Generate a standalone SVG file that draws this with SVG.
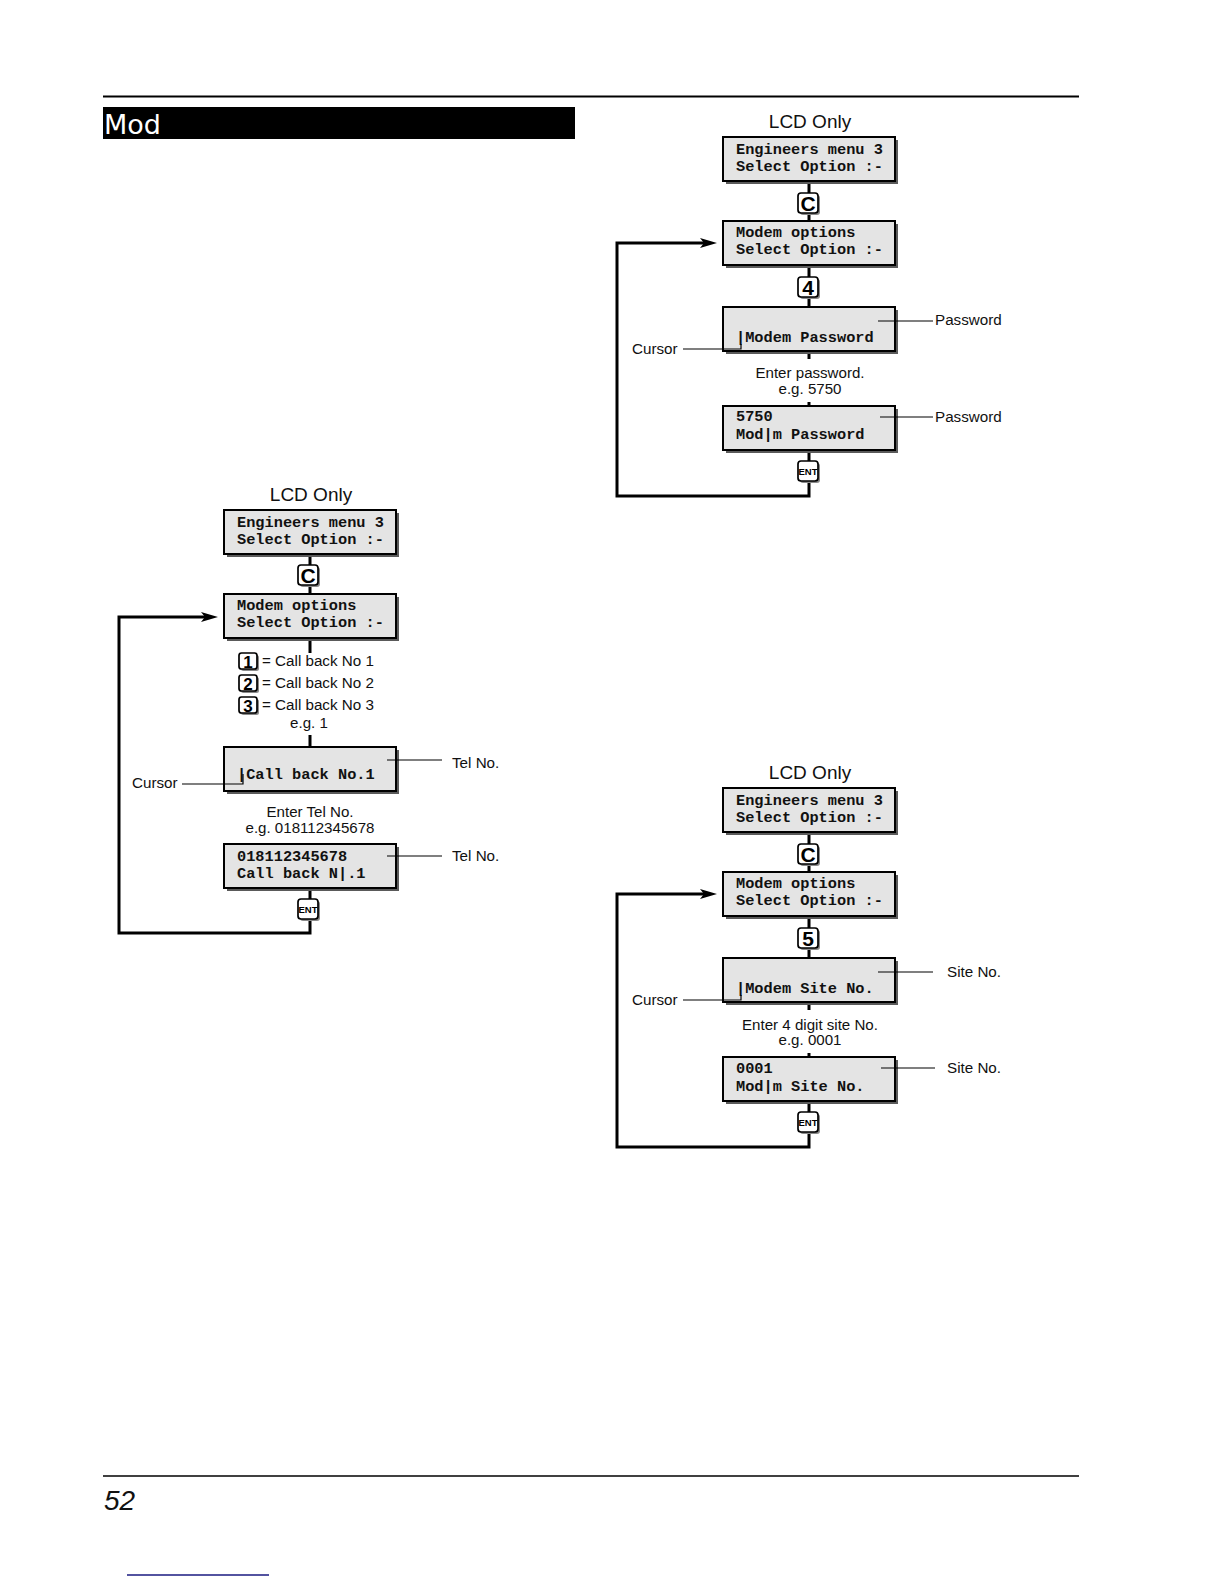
<svg xmlns="http://www.w3.org/2000/svg" width="1224" height="1584" viewBox="0 0 1224 1584">
<style>
  .lcd { fill:#e4e4e4; stroke:#000; stroke-width:2; }
  .shadow { fill:#5a5a5a; }
  .mono { font-family:"Liberation Mono","Courier New",monospace; font-weight:bold; font-size:15.3px; fill:#111; }
  .lbl { font-family:"Liberation Sans",Arial,sans-serif; font-size:15.2px; fill:#111; }
  .lblc { font-family:"Liberation Sans",Arial,sans-serif; font-size:15.1px; fill:#111; text-anchor:middle; }
  .title { font-family:"Liberation Sans",Arial,sans-serif; font-size:19px; fill:#111; text-anchor:middle; }
  .key { fill:#fff; stroke:#000; stroke-width:1.7; }
  .kshadow { fill:#8a8a8a; }
  .keyt { font-family:"Liberation Sans",Arial,sans-serif; font-weight:bold; font-size:21px; fill:#000; text-anchor:middle; }
  .keys { font-family:"Liberation Sans",Arial,sans-serif; font-weight:bold; font-size:17px; fill:#000; text-anchor:middle; }
  .entt { font-family:"Liberation Sans",Arial,sans-serif; font-weight:bold; font-size:9.5px; fill:#000; text-anchor:middle; }
  .conn { fill:none; stroke:#000; stroke-width:3; }
  .loop { fill:none; stroke:#000; stroke-width:3; }
  .thin { fill:none; stroke:#000; stroke-width:1.2; }
</style>
<defs>
  <marker id="arrow" viewBox="0 0 17 10" refX="4" refY="5" markerWidth="17" markerHeight="10" markerUnits="userSpaceOnUse" orient="auto">
    <path d="M0,0 L17,5 L0,10 L4,5 Z" fill="#000"/>
  </marker>
</defs>
<rect width="1224" height="1584" fill="#fff"/>

<!-- page frame -->
<g id="page">
  <line x1="103" y1="96.5" x2="1079" y2="96.5" stroke="#000" stroke-width="2"/>
  <rect x="103" y="107" width="472" height="32" fill="#000"/>
  <text x="104" y="134" font-family="DejaVu Sans, sans-serif" font-size="27" fill="#fff">Mod</text>
  <line x1="103" y1="1476" x2="1079" y2="1476" stroke="#000" stroke-width="1.5"/>
  <text x="104" y="1510" font-family="Liberation Sans, Arial, sans-serif" font-style="italic" font-size="28" fill="#111">52</text>
  <line x1="127" y1="1575" x2="269" y2="1575" stroke="#1a1a80" stroke-width="1.5"/>
</g>

<!-- ================= TOP RIGHT DIAGRAM ================= -->
<g id="tr-title"><text class="title" x="810" y="128">LCD Only</text></g>
<g id="tr-box1">
  <rect class="shadow" x="726" y="140" width="172" height="44"/>
  <rect class="lcd" x="723" y="137" width="172" height="44"/>
  <text class="mono" x="736" y="154">Engineers menu 3</text>
  <text class="mono" x="736" y="171">Select Option :-</text>
</g>
<g id="tr-keyC">
  <rect class="kshadow" x="800" y="195" width="20" height="20" rx="3"/>
  <rect class="key" x="798" y="193" width="20" height="20" rx="3"/>
  <text class="keyt" x="808" y="211">C</text>
</g>
<g id="tr-box2">
  <rect class="shadow" x="726" y="224" width="172" height="44"/>
  <rect class="lcd" x="723" y="221" width="172" height="44"/>
  <text class="mono" x="736" y="237">Modem options</text>
  <text class="mono" x="736" y="254">Select Option :-</text>
</g>
<g id="tr-key4">
  <rect class="kshadow" x="800" y="279" width="20" height="20" rx="3"/>
  <rect class="key" x="798" y="277" width="20" height="20" rx="3"/>
  <text class="keyt" x="808" y="295">4</text>
</g>
<g id="tr-box3">
  <rect class="shadow" x="726" y="310" width="172" height="44"/>
  <rect class="lcd" x="723" y="307" width="172" height="44"/>
  <text class="mono" x="736" y="342">|Modem Password</text>
</g>
<g id="tr-cursor"><text class="lbl" x="632" y="354">Cursor</text></g>
<g id="tr-pw1"><text class="lbl" x="935" y="325">Password</text></g>
<g id="tr-enter">
  <text class="lblc" x="810" y="378">Enter password.</text>
  <text class="lblc" x="810" y="394">e.g. 5750</text>
</g>
<g id="tr-box4">
  <rect class="shadow" x="726" y="409" width="172" height="44"/>
  <rect class="lcd" x="723" y="406" width="172" height="44"/>
  <text class="mono" x="736" y="421">5750</text>
  <text class="mono" x="736" y="439">Mod|m Password</text>
</g>
<g id="tr-pw2"><text class="lbl" x="935" y="422">Password</text></g>
<g id="tr-ent">
  <rect class="kshadow" x="800" y="463" width="20" height="20" rx="3"/>
  <rect class="key" x="798" y="461" width="20" height="20" rx="3"/>
  <text class="entt" x="808" y="474.5">ENT</text>
</g>

<!-- ================= BOTTOM RIGHT DIAGRAM ================= -->
<g id="br-title"><text class="title" x="810" y="779">LCD Only</text></g>
<g id="br-box1">
  <rect class="shadow" x="726" y="791" width="172" height="44"/>
  <rect class="lcd" x="723" y="788" width="172" height="44"/>
  <text class="mono" x="736" y="805">Engineers menu 3</text>
  <text class="mono" x="736" y="822">Select Option :-</text>
</g>
<g id="br-keyC">
  <rect class="kshadow" x="800" y="846" width="20" height="20" rx="3"/>
  <rect class="key" x="798" y="844" width="20" height="20" rx="3"/>
  <text class="keyt" x="808" y="862">C</text>
</g>
<g id="br-box2">
  <rect class="shadow" x="726" y="875" width="172" height="44"/>
  <rect class="lcd" x="723" y="872" width="172" height="44"/>
  <text class="mono" x="736" y="888">Modem options</text>
  <text class="mono" x="736" y="905">Select Option :-</text>
</g>
<g id="br-key5">
  <rect class="kshadow" x="800" y="930" width="20" height="20" rx="3"/>
  <rect class="key" x="798" y="928" width="20" height="20" rx="3"/>
  <text class="keyt" x="808" y="946">5</text>
</g>
<g id="br-box3">
  <rect class="shadow" x="726" y="961" width="172" height="44"/>
  <rect class="lcd" x="723" y="958" width="172" height="44"/>
  <text class="mono" x="736" y="993">|Modem Site No.</text>
</g>
<g id="br-cursor"><text class="lbl" x="632" y="1005">Cursor</text></g>
<g id="br-site1"><text class="lbl" x="947" y="977">Site No.</text></g>
<g id="br-enter">
  <text class="lblc" x="810" y="1030">Enter 4 digit site No.</text>
  <text class="lblc" x="810" y="1045">e.g. 0001</text>
</g>
<g id="br-box4">
  <rect class="shadow" x="726" y="1060" width="172" height="44"/>
  <rect class="lcd" x="723" y="1057" width="172" height="44"/>
  <text class="mono" x="736" y="1073">0001</text>
  <text class="mono" x="736" y="1091">Mod|m Site No.</text>
</g>
<g id="br-site2"><text class="lbl" x="947" y="1073">Site No.</text></g>
<g id="br-ent">
  <rect class="kshadow" x="800" y="1114" width="20" height="20" rx="3"/>
  <rect class="key" x="798" y="1112" width="20" height="20" rx="3"/>
  <text class="entt" x="808" y="1125.5">ENT</text>
</g>

<!-- ================= LEFT DIAGRAM ================= -->
<g id="l-title"><text class="title" x="311" y="501">LCD Only</text></g>
<g id="l-box1">
  <rect class="shadow" x="227" y="513" width="172" height="44"/>
  <rect class="lcd" x="224" y="510" width="172" height="44"/>
  <text class="mono" x="237" y="527">Engineers menu 3</text>
  <text class="mono" x="237" y="544">Select Option :-</text>
</g>
<g id="l-keyC">
  <rect class="kshadow" x="300" y="567" width="20" height="20" rx="3"/>
  <rect class="key" x="298" y="565" width="20" height="20" rx="3"/>
  <text class="keyt" x="308" y="583">C</text>
</g>
<g id="l-box2">
  <rect class="shadow" x="227" y="597" width="172" height="44"/>
  <rect class="lcd" x="224" y="594" width="172" height="44"/>
  <text class="mono" x="237" y="610">Modem options</text>
  <text class="mono" x="237" y="627">Select Option :-</text>
</g>
<g id="l-key1">
  <rect class="kshadow" x="241" y="655" width="18" height="16" rx="2.5"/>
  <rect class="key" x="239" y="653" width="18" height="16" rx="2.5"/>
  <text class="keys" x="248" y="667.5">1</text>
  <text class="lbl" x="262" y="666">= Call back No 1</text>
</g>
<g id="l-key2">
  <rect class="kshadow" x="241" y="677" width="18" height="16" rx="2.5"/>
  <rect class="key" x="239" y="675" width="18" height="16" rx="2.5"/>
  <text class="keys" x="248" y="689.5">2</text>
  <text class="lbl" x="262" y="688">= Call back No 2</text>
</g>
<g id="l-key3">
  <rect class="kshadow" x="241" y="699" width="18" height="16" rx="2.5"/>
  <rect class="key" x="239" y="697" width="18" height="16" rx="2.5"/>
  <text class="keys" x="248" y="711.5">3</text>
  <text class="lbl" x="262" y="710">= Call back No 3</text>
</g>
<g id="l-eg1"><text class="lblc" x="309" y="728">e.g. 1</text></g>
<g id="l-box3">
  <rect class="shadow" x="227" y="750" width="172" height="44"/>
  <rect class="lcd" x="224" y="747" width="172" height="44"/>
  <text class="mono" x="237" y="779">|Call back No.1</text>
</g>
<g id="l-tel1"><text class="lbl" x="452" y="768">Tel No.</text></g>
<g id="l-cursor"><text class="lbl" x="132" y="788">Cursor</text></g>
<g id="l-enter">
  <text class="lblc" x="310" y="817" font-size="16.2">Enter Tel No.</text>
  <text class="lblc" x="310" y="833" font-size="16.2">e.g. 018112345678</text>
</g>
<g id="l-box4">
  <rect class="shadow" x="227" y="847" width="172" height="44"/>
  <rect class="lcd" x="224" y="844" width="172" height="44"/>
  <text class="mono" x="237" y="861">018112345678</text>
  <text class="mono" x="237" y="878">Call back N|.1</text>
</g>
<g id="l-tel2"><text class="lbl" x="452" y="861">Tel No.</text></g>
<g id="l-ent">
  <rect class="kshadow" x="300" y="901" width="20" height="20" rx="3"/>
  <rect class="key" x="298" y="899" width="20" height="20" rx="3"/>
  <text class="entt" x="308" y="912.5">ENT</text>
</g>

<!-- connectors (drawn over nodes so label leaders show inside boxes) -->
<g id="connectors">
  <!-- top right diagram -->
  <path class="conn" d="M809 184 V193 M809 215 V221 M809 268 V277 M809 299 V307 M809 354 V359 M809 402 V406 M809 453 V461"/>
  <path class="loop" d="M809 483 V496 H617 V243 H704" marker-end="url(#arrow)"/>
  <path class="thin" d="M878 321 H933"/>
  <path class="thin" d="M880 417 H933"/>
  <path class="thin" d="M683 349 H741 V344"/>
  <!-- bottom right diagram -->
  <path class="conn" d="M809 835 V844 M809 866 V872 M809 919 V928 M809 950 V958 M809 1005 V1010 M809 1053 V1057 M809 1104 V1112"/>
  <path class="loop" d="M809 1134 V1147 H617 V894 H704" marker-end="url(#arrow)"/>
  <path class="thin" d="M878 972 H933"/>
  <path class="thin" d="M881 1068 H935"/>
  <path class="thin" d="M683 1000 H741 V995"/>
  <!-- left diagram -->
  <path class="conn" d="M310 557 V565 M310 587 V594 M310 641 V653 M310 735 V747"/>
  <path class="conn" d="M310 891 V899"/>
  <path class="loop" d="M310 921 V933 H119 V617 H205" marker-end="url(#arrow)"/>
  <path class="thin" d="M387 760 H442"/>
  <path class="thin" d="M387 856 H442"/>
  <path class="thin" d="M182 784 H243 V774"/>
</g>
</svg>
